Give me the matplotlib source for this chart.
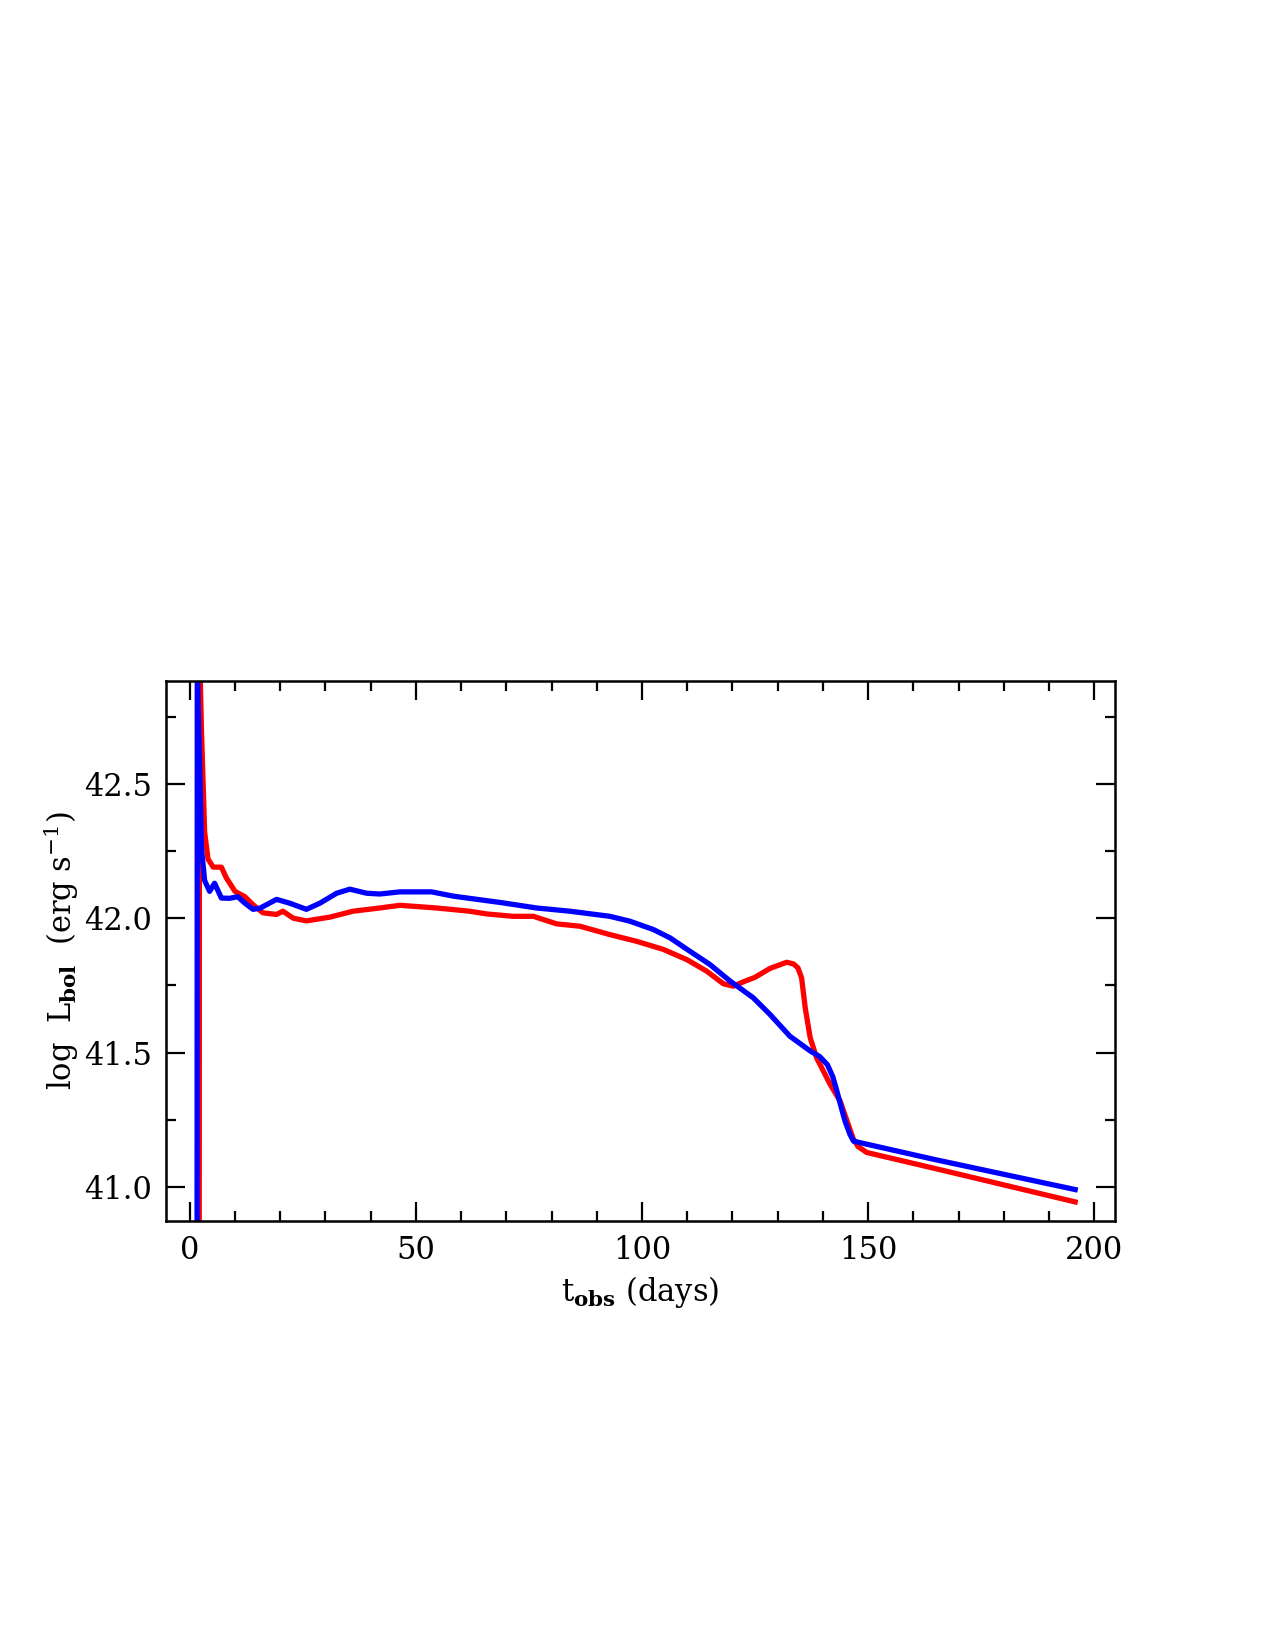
"""
bolometric light curves, two models
"""
import matplotlib
matplotlib.use("Agg")
import matplotlib.pyplot as plt
from matplotlib.ticker import MultipleLocator

# red model
t_red = [2.10, 2.15, 2.35, 2.6, 2.95, 3.3, 4.05, 5.2, 7.0, 8.1, 10.0, 12.2, 14.0,
         16.2, 19.2, 20.6, 22.9, 25.8, 31.0, 36.1, 42.0, 46.5, 54.6, 61.9, 65.6,
         71.5, 76.0, 81.1, 86.3, 92.9, 98.8, 104.7, 109.9, 114.3, 118.0, 120.2,
         122.4, 125.0, 128.3, 132.0, 133.5, 134.5, 135.3, 136.1, 137.2, 138.6,
         141.6, 143.8, 146.7, 147.8, 149.7, 164.4, 195.8]
L_red = [40.60, 43.00, 42.88, 42.70, 42.51, 42.32, 42.22, 42.19, 42.19, 42.15, 42.10,
         42.08, 42.05, 42.02, 42.014, 42.026, 42.00, 41.99, 42.004, 42.026, 42.038,
         42.048, 42.038, 42.026, 42.016, 42.007, 42.007, 41.979, 41.97, 41.939,
         41.914, 41.884, 41.846, 41.803, 41.756, 41.747, 41.763, 41.78, 41.813,
         41.836, 41.83, 41.815, 41.778, 41.667, 41.555, 41.481, 41.382, 41.32,
         41.18, 41.15, 41.128, 41.07, 40.944]

# blue model
t_blue = [1.62, 1.67, 1.85, 2.2, 2.6, 3.3, 4.4, 5.5, 7.0, 8.8, 10.6, 12.2, 14.0,
          15.5, 19.2, 22.1, 25.8, 28.8, 32.5, 35.4, 39.1, 42.0, 46.5, 53.5, 58.3,
          69.3, 76.7, 84.1, 92.9, 97.3, 102.5, 106.2, 110.6, 115.0, 119.5, 124.6,
          128.3, 132.7, 137.2, 139.3, 141.0, 142.2, 143.1, 144.0, 144.9, 146.0,
          146.8, 164.4, 195.8]
L_blue = [40.60, 42.95, 42.80, 42.57, 42.26, 42.14, 42.10, 42.13, 42.075, 42.074,
          42.08, 42.056, 42.033, 42.037, 42.07, 42.056, 42.033, 42.056, 42.093,
          42.108, 42.093, 42.09, 42.098, 42.098, 42.082, 42.057, 42.038, 42.026,
          42.007, 41.989, 41.958, 41.927, 41.877, 41.828, 41.766, 41.704, 41.642,
          41.561, 41.506, 41.485, 41.455, 41.41, 41.357, 41.30, 41.245, 41.195,
          41.17, 41.103, 40.99]

plt.rcParams['font.family'] = ['DejaVu Serif']
plt.rcParams['mathtext.fontset'] = 'dejavuserif'

fig = plt.figure(figsize=(12.75, 16.5), dpi=100)
ax = fig.add_axes([0.130, 0.260, 0.7445, 0.3273])

ax.plot(t_red, L_red, color='#ff0000', lw=3.8, solid_joinstyle='round')
ax.plot(t_blue, L_blue, color='#0000ff', lw=3.8, solid_joinstyle='round')

ax.set_xlim(-5.3, 204.6)
ax.set_ylim(40.873, 42.883)

ax.xaxis.set_major_locator(MultipleLocator(50))
ax.xaxis.set_minor_locator(MultipleLocator(10))
ax.yaxis.set_major_locator(MultipleLocator(0.5))
ax.yaxis.set_minor_locator(MultipleLocator(0.25))
ax.yaxis.set_major_formatter(plt.FormatStrFormatter('%.1f'))

ax.tick_params(which='both', direction='in', top=True, right=True, width=1.6,
               labelsize=22)
ax.tick_params(which='major', length=13.5, pad=10)
ax.tick_params(which='minor', length=7)
for sp in ax.spines.values():
    sp.set_linewidth(1.8)

ax.set_xlabel(r't$_{\bf obs}$ (days)', fontsize=22, labelpad=6)
ax.set_ylabel(r'log  L$_{\bf bol}$  (erg s$^{-1}$)', fontsize=22, labelpad=2)

fig.savefig('out.png', dpi=100)
